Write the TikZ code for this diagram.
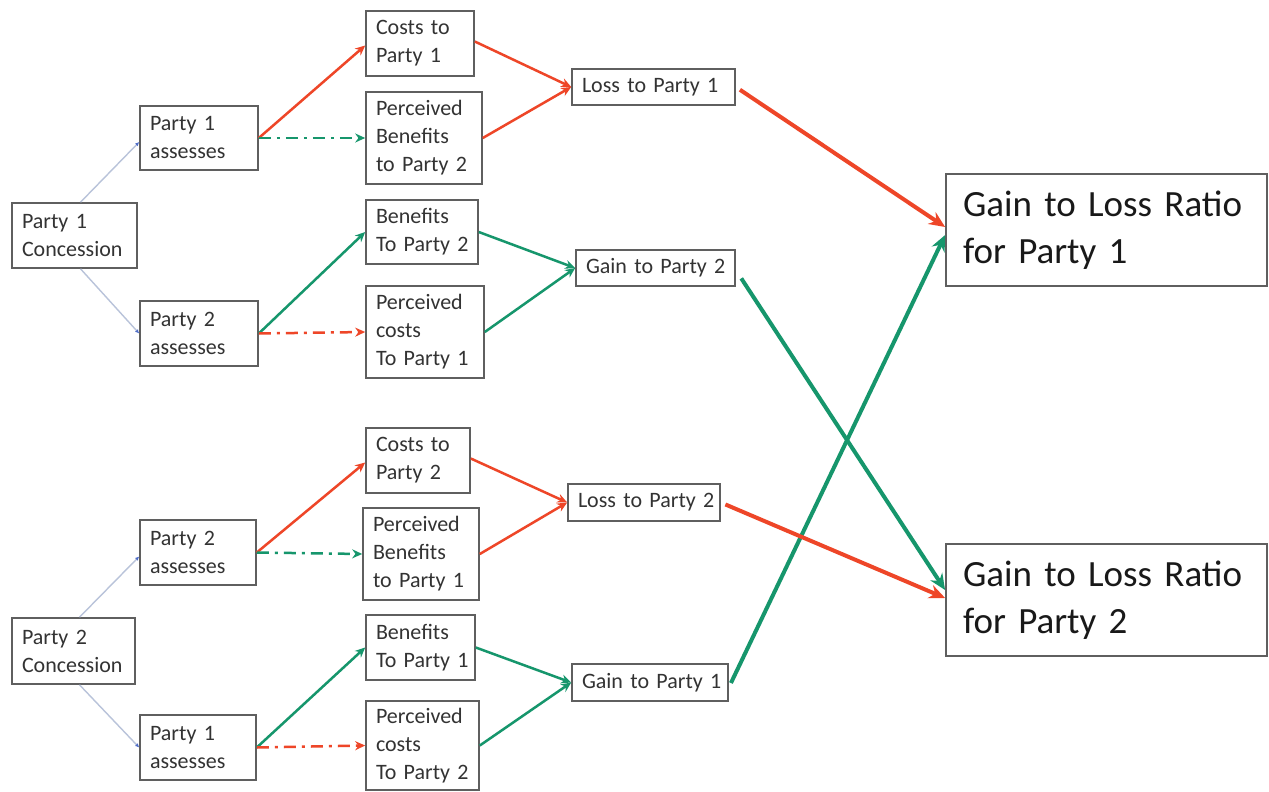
\documentclass[tikz,border=0pt]{standalone}
\usepackage{fontspec}
\setmainfont{Carlito}
\usetikzlibrary{arrows.meta}
\definecolor{redA}{RGB}{238,70,40}
\definecolor{greenA}{RGB}{22,150,108}
\definecolor{boxgray}{RGB}{95,95,95}
\definecolor{thin}{RGB}{185,195,218}
\definecolor{tipblue}{RGB}{80,110,200}
\newcommand{\nb}[1]{\mbox{#1}}
\tikzset{
  box/.style={draw=boxgray, line width=0.8pt, inner xsep=5pt, inner ysep=0pt,
    font=\fontsize{11}{14}\selectfont, text=black!80, align=left},
  bigbox/.style={draw=boxgray, line width=0.9pt, inner xsep=8.5pt, inner ysep=0pt,
    font=\fontsize{18.5}{23.5}\selectfont, text=black!90, align=left},
  redarr/.style={draw=redA, line width=1.25pt, -{Stealth[length=5pt,width=4.5pt]}},
  grnarr/.style={draw=greenA, line width=1.25pt, -{Stealth[length=5pt,width=4.5pt]}},
  reddd/.style={redarr, dash pattern=on 6pt off 3pt on 1.5pt off 3pt},
  grndd/.style={grnarr, dash pattern=on 6pt off 3pt on 1.5pt off 3pt},
  redbig/.style={draw=redA, line width=2pt, -{Stealth[length=8pt,width=7pt]}},
  grnbig/.style={draw=greenA, line width=2pt, -{Stealth[length=8pt,width=7pt]}},
  thinarr/.style={draw=thin, line width=0.7pt, -{Latex[length=2pt,width=2pt,color=tipblue]}}
}
\begin{document}
\begin{tikzpicture}[x=0.5pt,y=-0.5pt]
\useasboundingbox (0,0) rectangle (1269,792);
\fill[white] (0,0) rectangle (1269,792);
% top half
\node[box, text width=52.5pt, minimum height=32.5pt] (P1C) at (74.5,235.5) {\nb{Party 1}\\\nb{Concession}};
\node[box, text width=49pt, minimum height=32pt] (P1a) at (199,138) {\nb{Party 1}\\\nb{assesses}};
\node[box, text width=49pt, minimum height=32.5pt] (P2a) at (199,333.5) {\nb{Party 2}\\\nb{assesses}};
\node[box, text width=44pt, minimum height=32.5pt] (C1) at (420,43.5) {\nb{Costs to}\\\nb{Party 1}};
\node[box, text width=48pt, minimum height=46pt] (PB2) at (424,138) {\nb{Perceived}\\\nb{Benefits}\\\nb{to Party 2}};
\node[box, text width=46pt, minimum height=32pt] (B2) at (422,232) {\nb{Benefits}\\\nb{To Party 2}};
\node[box, text width=49pt, minimum height=46pt] (PC1) at (425,332) {\nb{Perceived}\\\nb{costs}\\\nb{To Party 1}};
\node[box, text width=71.5pt, minimum height=18pt] (L1) at (653.5,87) {\nb{Loss to Party 1}};
\node[box, text width=69.5pt, minimum height=18pt] (G2) at (655.5,268) {\nb{Gain to Party 2}};
\node[bigbox, text width=143.5pt, minimum height=56pt] (GLR1) at (1106.5,230) {\nb{Gain to Loss Ratio}\\\nb{for Party 1}};
% bottom half
\node[box, text width=51.5pt, minimum height=33pt] (P2C) at (73.5,651) {\nb{Party 2}\\\nb{Concession}};
\node[box, text width=48pt, minimum height=32.5pt] (P2b) at (198,552.5) {\nb{Party 2}\\\nb{assesses}};
\node[box, text width=48pt, minimum height=32.5pt] (P1b) at (198,747.5) {\nb{Party 1}\\\nb{assesses}};
\node[box, text width=42pt, minimum height=32.5pt] (C2) at (418,460.5) {\nb{Costs to}\\\nb{Party 2}};
\node[box, text width=48pt, minimum height=46pt] (PB1) at (421,554) {\nb{Perceived}\\\nb{Benefits}\\\nb{to Party 1}};
\node[box, text width=44.5pt, minimum height=32.5pt] (B1) at (420.5,647.5) {\nb{Benefits}\\\nb{To Party 1}};
\node[box, text width=46.5pt, minimum height=44.5pt] (PC2) at (422.5,745.5) {\nb{Perceived}\\\nb{costs}\\\nb{To Party 2}};
\node[box, text width=66pt, minimum height=18.5pt] (L2) at (644,502.5) {\nb{Loss to Party 2}};
\node[box, text width=68pt, minimum height=18.5pt] (G1) at (650,682.5) {\nb{Gain to Party 1}};
\node[bigbox, text width=143.5pt, minimum height=56pt] (GLR2) at (1106.5,600) {\nb{Gain to Loss Ratio}\\\nb{for Party 2}};
% thin connectors
\draw[thinarr] ([xshift=3pt]P1C.north) -- ([yshift=-2pt]P1a.west);
\draw[thinarr] ([xshift=3pt]P1C.south) -- (P2a.west);
\draw[thinarr] ([xshift=3pt]P2C.north) -- ([yshift=-2pt]P2b.west);
\draw[thinarr] ([xshift=3pt]P2C.south) -- (P1b.west);
% top colored
\draw[redarr] (P1a.east) -- ([yshift=-1pt]C1.west);
\draw[grndd] (P1a.east) -- (PB2.west);
\draw[redarr] ([yshift=1pt]C1.east) -- (L1.west);
\draw[redarr] (PB2.east) -- (L1.west);
\draw[grnarr] (P2a.east) -- (B2.west);
\draw[reddd] (P2a.east) -- (PC1.west);
\draw[grnarr] (B2.east) -- (G2.west);
\draw[grnarr] (PC1.east) -- (G2.west);
% bottom colored
\draw[redarr] (P2b.east) -- ([yshift=-1pt]C2.west);
\draw[grndd] (P2b.east) -- (PB1.west);
\draw[redarr] ([yshift=1pt]C2.east) -- (L2.west);
\draw[redarr] (PB1.east) -- (L2.west);
\draw[grnarr] (P1b.east) -- (B1.west);
\draw[reddd] (P1b.east) -- (PC2.west);
\draw[grnarr] (B1.east) -- (G1.west);
\draw[grnarr] (PC2.east) -- (G1.west);
% thick connectors
\draw[redbig, shorten <=2.5pt] (L1.east) -- ([yshift=1.5pt]GLR1.west);
\draw[grnbig, shorten <=2.5pt] ([yshift=-2.5pt]G1.east) -- ([yshift=-2.5pt]GLR1.west);
\draw[grnbig, shorten <=5pt] ([yshift=-1pt]G2.east) -- ([yshift=5pt]GLR2.west);
\draw[redbig, shorten <=2.5pt] (L2.east) -- ([yshift=1pt]GLR2.west);
\end{tikzpicture}
\end{document}
